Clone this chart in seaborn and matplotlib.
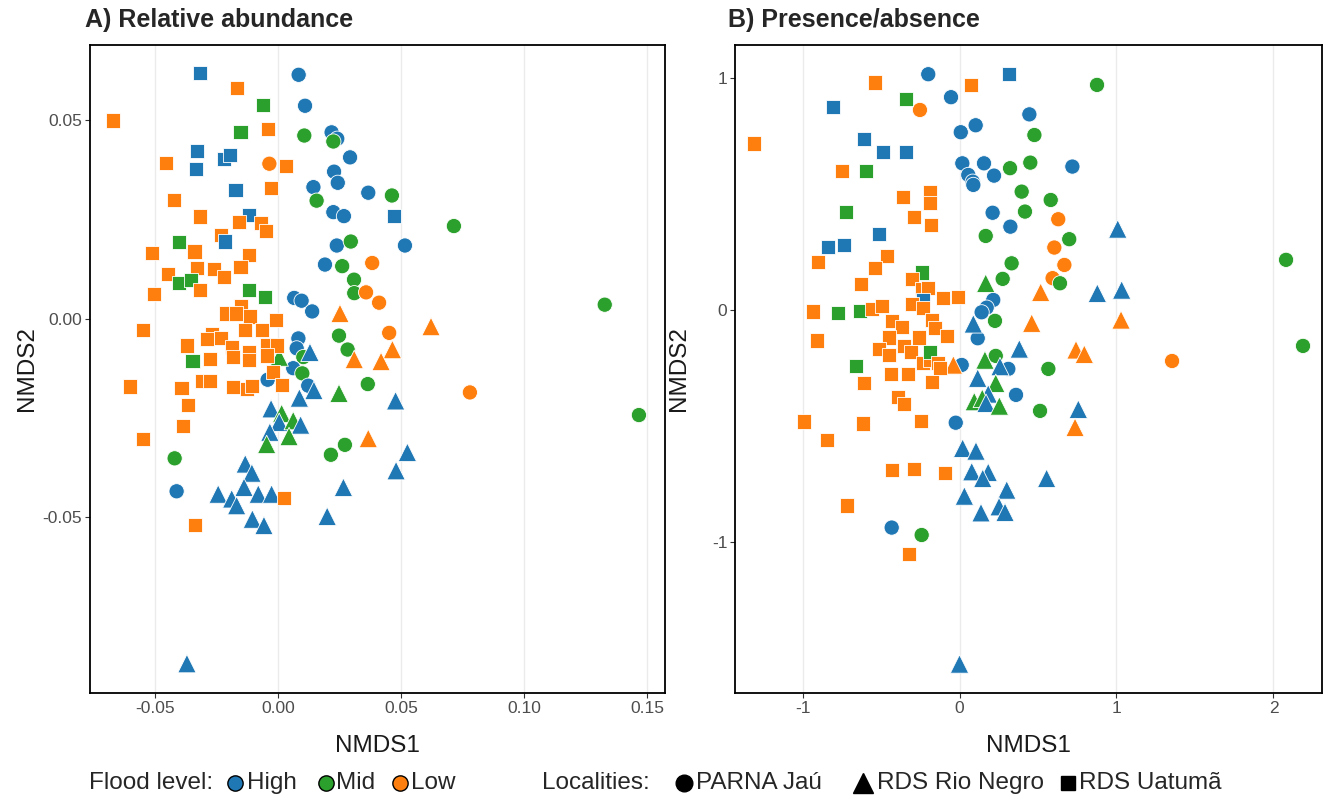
import matplotlib
matplotlib.use("Agg")
import matplotlib.pyplot as plt
from matplotlib.lines import Line2D
import seaborn as sns
import pandas as pd

# ---------------- data ----------------
# flood level codes: H=High, M=Mid, L=Low ; site codes: P=PARNA Jaú, R=RDS Rio Negro, U=RDS Uatumã
a_x = [-0.0317, -0.0165, -0.0060, -0.0670, -0.0152, -0.0042, -0.0330, -0.0218, -0.0195, -0.0454,
       -0.0035, 0.0033, -0.0333, -0.0173, -0.0028, -0.0423, -0.0117, -0.0316, -0.0157, -0.0069,
       -0.0050, -0.0233, -0.0215, -0.0401, -0.0511, -0.0339, -0.0119, -0.0330, -0.0260, -0.0152,
       -0.0447, -0.0401, -0.0355, -0.0220, -0.0318, -0.0503, -0.0119, -0.0052, -0.0150, -0.0209,
       -0.0172, -0.0114, -0.0007, -0.0550, -0.0135, -0.0066, -0.0267, -0.0287, -0.0233, -0.0370,
       -0.0188, -0.0182, -0.0119, -0.0119, -0.0046, -0.0005, -0.0046, 0.0005, -0.0347, -0.0276,
       -0.0019, -0.0042, -0.0310, -0.0276, -0.0602, -0.0392, -0.0182, -0.0127, -0.0107, 0.0015,
       -0.0366, -0.0028, 0.0015, 0.0005, -0.0385, -0.0033, -0.0046, -0.0550, -0.0420, -0.0133,
       -0.0106, -0.0138, -0.0412, -0.0243, -0.0188, -0.0168, -0.0080, -0.0026, 0.0026, -0.0337,
       -0.0104, -0.0057, -0.0370, 0.0084, 0.0110, 0.0107, 0.0218, 0.0241, 0.0225, 0.0293,
       0.0228, 0.0243, 0.0144, 0.0367, 0.0463, 0.0157, 0.0225, 0.0268, 0.0473, 0.0715,
       0.0239, 0.0296, 0.0516, 0.0191, 0.0261, 0.0383, 0.0309, 0.0310, 0.0358, 0.0411,
       0.0066, 0.0096, 0.0139, 0.0252, 0.0622, 0.0248, 0.0452, 0.0083, 0.0076, 0.0130,
       0.0103, 0.0283, 0.0465, 0.0310, 0.0419, 0.0062, 0.0099, 0.0123, 0.0146, 0.0365,
       0.0248, 0.0087, 0.0478, 0.0062, 0.0092, 0.0045, 0.0367, 0.0272, 0.0215, 0.0526,
       0.0480, 0.0266, 0.0200, 0.1328, 0.0780, 0.1467]
a_y = [0.0619, 0.0581, 0.0538, 0.0499, 0.0470, 0.0478, 0.0423, 0.0402, 0.0412, 0.0392,
       0.0390, 0.0385, 0.0377, 0.0323, 0.0328, 0.0299, 0.0261, 0.0257, 0.0243, 0.0240,
       0.0220, 0.0211, 0.0194, 0.0192, 0.0165, 0.0169, 0.0160, 0.0128, 0.0125, 0.0129,
       0.0113, 0.0089, 0.0097, 0.0104, 0.0072, 0.0062, 0.0071, 0.0055, 0.0032, 0.0013,
       0.0013, 0.0005, -0.0003, -0.0028, -0.0028, -0.0028, -0.0039, -0.0051, -0.0049, -0.0068,
       -0.0072, -0.0096, -0.0085, -0.0104, -0.0068, -0.0068, -0.0093, -0.0097, -0.0106, -0.0102,
       -0.0135, -0.0154, -0.0158, -0.0158, -0.0171, -0.0175, -0.0173, -0.0177, -0.0169, -0.0167,
       -0.0217, -0.0227, -0.0239, -0.0261, -0.0270, -0.0286, -0.0317, -0.0303, -0.0352, -0.0366,
       -0.0389, -0.0425, -0.0435, -0.0442, -0.0454, -0.0471, -0.0442, -0.0442, -0.0452, -0.0520,
       -0.0505, -0.0521, -0.0869, 0.0614, 0.0536, 0.0461, 0.0469, 0.0453, 0.0446, 0.0406,
       0.0370, 0.0342, 0.0331, 0.0317, 0.0310, 0.0297, 0.0268, 0.0258, 0.0258, 0.0233,
       0.0184, 0.0194, 0.0184, 0.0136, 0.0132, 0.0140, 0.0098, 0.0064, 0.0066, 0.0040,
       0.0052, 0.0045, 0.0018, 0.0013, -0.0020, -0.0043, -0.0036, -0.0050, -0.0075, -0.0085,
       -0.0097, -0.0078, -0.0078, -0.0103, -0.0108, -0.0125, -0.0138, -0.0169, -0.0181, -0.0165,
       -0.0188, -0.0200, -0.0207, -0.0257, -0.0268, -0.0297, -0.0302, -0.0318, -0.0343, -0.0337,
       -0.0383, -0.0425, -0.0498, 0.0035, -0.0186, -0.0243]
a_flood = list("HLMLMLHHHL" "LLHHLLHLLL" "LLHMLLLLLL" "LMMLLLMMLL" "LLLLLLLLLL"
               "LLLLLLLMML" "LHLLLLLLLL" "LHMHLHMLMH" "HHHHHHHHLL" "HHHHHMHHMH"
               "HHHHMMHHHM" "HMHHMLMMLL" "HHHLLMLHHH" "MMLLLHMHHM" "MHHMHMLMMH"
               "HHHMLM")
a_site = list("UUUUUUUUUU" "PUUUUUUUUU" "UUUUUUUUUU" "UUUUUUUUUU" "UUUUUUUUUU"
              "UUUUUUURUU" "UPUUUUUUUU" "URRRURRUPR" "RRPRRRRRUU" "RRRPPPPPPP"
              "PPPPPPPPUP" "PPPPPPPPPP" "PPPRRPPPPR" "PPRRRPPPRP" "RRRRRRRPPR"
              "RRRPPP")

b_x = [-0.199, -0.538, -0.343, -0.252, -0.808, -1.307, -0.606, -0.489, -0.341, -0.750,
       -0.596, -0.358, -0.188, -0.188, -0.725, -0.288, -0.183, -0.513, -0.839, -0.738,
       -0.462, -0.903, -0.538, -0.241, -0.627, -0.301, -0.241, -0.199, -0.231, 0.317,
       0.073, -0.054, 0.445, 0.008, 0.103, 0.477, 0.018, 0.156, 0.322, 0.451,
       0.719, 0.056, 0.084, 0.088, 0.220, 0.396, 0.581, 0.211, 0.417, 0.629,
       0.324, 1.008, 0.167, 0.699, 0.604, 0.332, 0.668, 0.167, 0.275, 0.593,
       0.640, 0.517, 0.878, 1.033, 0.215, -0.107, -0.008, -0.935, -0.776, -0.634,
       -0.559, -0.496, -0.304, -0.234, -0.177, -0.432, -0.368, -0.910, -0.449, -0.256,
       -0.511, -0.447, -0.352, -0.311, -0.231, -0.188, -0.188, -0.661, -0.438, -0.330,
       -0.608, -0.177, -0.390, -0.352, -0.990, -0.613, -0.245, -0.842, -0.432, -0.288,
       -0.715, -0.432, -0.241, -0.322, 0.173, 0.141, 1.029, 0.460, 0.226, 0.088,
       -0.156, -0.082, 0.116, 0.381, 0.742, 0.795, 0.162, 0.231, -0.135, -0.124,
       -0.039, 0.014, 0.258, 0.311, 0.566, 0.116, 0.231, 0.183, 0.360, 0.094,
       0.145, 0.169, 0.254, 0.513, 0.757, 0.736, -0.024, 0.020, 0.105, -0.092,
       0.078, 0.183, 0.148, 0.555, 0.031, 0.301, 0.137, 0.252, 0.290, 0.876,
       1.354, 2.080, 2.188, 0.000]
b_y = [1.016, 0.980, 0.908, 0.862, 0.875, 0.717, 0.737, 0.680, 0.682, 0.599,
       0.599, 0.487, 0.510, 0.460, 0.421, 0.400, 0.366, 0.326, 0.270, 0.280,
       0.233, 0.208, 0.180, 0.161, 0.111, 0.132, 0.089, 0.094, 0.043, 1.017,
       0.970, 0.917, 0.843, 0.766, 0.796, 0.754, 0.632, 0.632, 0.611, 0.635,
       0.618, 0.582, 0.553, 0.539, 0.579, 0.510, 0.474, 0.419, 0.424, 0.391,
       0.359, 0.349, 0.319, 0.305, 0.269, 0.201, 0.194, 0.115, 0.134, 0.137,
       0.115, 0.076, 0.072, 0.086, 0.043, 0.050, 0.055, -0.007, -0.014, -0.004,
       0.004, 0.017, 0.025, 0.007, -0.043, -0.047, -0.075, -0.132, -0.119, -0.119,
       -0.168, -0.194, -0.155, -0.182, -0.230, -0.216, -0.180, -0.240, -0.277, -0.276,
       -0.316, -0.312, -0.374, -0.407, -0.481, -0.489, -0.477, -0.560, -0.690, -0.685,
       -0.843, -0.938, -0.970, -1.052, 0.010, -0.010, -0.043, -0.057, -0.047, -0.060,
       -0.079, -0.111, -0.122, -0.168, -0.172, -0.191, -0.216, -0.198, -0.230, -0.251,
       -0.237, -0.237, -0.244, -0.254, -0.254, -0.294, -0.316, -0.362, -0.366, -0.395,
       -0.381, -0.402, -0.414, -0.435, -0.428, -0.506, -0.486, -0.596, -0.608, -0.704,
       -0.697, -0.700, -0.726, -0.726, -0.802, -0.776, -0.874, -0.848, -0.872, 0.970,
       -0.220, 0.216, -0.155, -1.526]
b_flood = list("HLMLHLHHHL" "MLLLMLLHHH" "LLLMLLLLHH" "LHHHHMHHMM" "HHHHHMMHML"
               "HHMMLMLMML" "MLHHHLLLMM" "LLLLLLLLLL" "LLLLLLMMLL" "LLLLLLLLLL"
               "LHMLHHLLMH" "LLHHLLMMLL" "LHHHMHMHHM" "MHMMHLHHHL" "HHHHHHHHHM"
               "LMMH")
b_site = list("PUUPUUUUUU" "UUUUUUUUUU" "UUUUUUUUUU" "UPPPPPPPPP" "PPPPPPPPPP"
              "PRPPPPPRPP" "PRRRPUUUUU" "UUUUUUUUUU" "UUUUUUUUUU" "UUUUUUUUUU"
              "UPPUPPRRPR" "UUPRRRRPUU" "RPRPPRRRPR" "RRRPRRPRRU" "RRRRRRRRRP"
              "PPPR")

a_xlim = (-0.0764, 0.1573)
a_ylim = (-0.0943, 0.0689)
b_xlim = (-1.43, 2.309)
b_ylim = (-1.651, 1.142)
a_xticks = [-0.05, 0.00, 0.05, 0.10, 0.15]
a_xticklabels = ["-0.05", "0.00", "0.05", "0.10", "0.15"]
a_yticks = [-0.05, 0.00, 0.05]
a_yticklabels = ["-0.05", "0.00", "0.05"]
b_xticks = [-1, 0, 1, 2]
b_xticklabels = ["-1", "0", "1", "2"]
b_yticks = [-1, 0, 1]
b_yticklabels = ["-1", "0", "1"]

flood_names = {"H": "High", "M": "Mid", "L": "Low"}
site_names = {"P": "PARNA Jaú", "R": "RDS Rio Negro", "U": "RDS Uatumã"}
palette = {"High": "#1f77b4", "Mid": "#2ca02c", "Low": "#ff7f0e"}
site_markers = {"PARNA Jaú": "o", "RDS Rio Negro": "^", "RDS Uatumã": "s"}
site_sizes = {"PARNA Jaú": 120, "RDS Rio Negro": 175, "RDS Uatumã": 105}

n_a = min(len(a_x), len(a_y), len(a_flood), len(a_site))
n_b = min(len(b_x), len(b_y), len(b_flood), len(b_site))

# ---------------- figure ----------------
sns.set_theme(style="white")
plt.rcParams["font.family"] = ["Liberation Sans", "DejaVu Sans"]
plt.rcParams["axes.unicode_minus"] = False

W, H = 1335, 808
fig = plt.figure(figsize=(W / 100, H / 100), dpi=100)
axA = fig.add_axes([90 / W, 1 - 693 / H, 575 / W, 648 / H])
axB = fig.add_axes([735 / W, 1 - 693 / H, 587 / W, 648 / H])


def draw(ax, xs, ys, fl, st, n, xlim, ylim, xt, xtl, yt, ytl, ylab_x):
    df = pd.DataFrame({"x": xs[:n], "y": ys[:n],
                       "flood": [flood_names[c] for c in fl[:n]],
                       "site": [site_names[c] for c in st[:n]]})
    for site, mk in site_markers.items():
        sub = df[df["site"] == site]
        sns.scatterplot(data=sub, x="x", y="y", hue="flood", palette=palette,
                        marker=mk, s=site_sizes[site], edgecolor="white",
                        linewidth=0.6, ax=ax, legend=False, zorder=3)
    ax.set_xlim(*xlim)
    ax.set_ylim(*ylim)
    ax.set_xticks(xt)
    ax.set_xticklabels(xtl)
    ax.set_yticks(yt)
    ax.set_yticklabels(ytl)
    ax.grid(False)
    for v in xt:
        ax.axvline(v, color="#ebebeb", lw=1.0, zorder=0)
    for sp in ax.spines.values():
        sp.set_color("black")
        sp.set_linewidth(1.3)
        sp.set_visible(True)
    ax.tick_params(axis="both", which="major", direction="out", length=3.5,
                   width=0.8, color="#333333", labelsize=12.5,
                   labelcolor="#4d4d4d", pad=2, bottom=True, left=True)
    ax.set_xlabel("NMDS1", fontsize=17.5, color="#1a1a1a")
    ax.set_ylabel("NMDS2", fontsize=17.5, color="#1a1a1a")
    ax.xaxis.set_label_coords(0.5, -42 / 648)
    ax.yaxis.set_label_coords(ylab_x, 0.5)
    ax.set_facecolor("white")


draw(axA, a_x, a_y, a_flood, a_site, n_a, a_xlim, a_ylim, a_xticks, a_xticklabels,
     a_yticks, a_yticklabels, (38 - 90) / 575)
draw(axB, b_x, b_y, b_flood, b_site, n_b, b_xlim, b_ylim, b_xticks, b_xticklabels,
     b_yticks, b_yticklabels, (690 - 735) / 587)

fig.text(85 / W, 1 - 20 / H, "A) Relative abundance", fontsize=18,
         fontweight="bold", ha="left", va="center")
fig.text(728 / W, 1 - 20 / H, "B) Presence/absence", fontsize=18,
         fontweight="bold", ha="left", va="center")

# ---------------- bottom legends ----------------
ly = 1 - 783 / H
fs = 17.5
fig.text(89 / W, ly, "Flood level:", fontsize=fs, ha="left", va="center")
for (name, mx, tx) in [("High", 235, 247), ("Mid", 326, 336), ("Low", 400, 411)]:
    fig.add_artist(Line2D([mx / W], [ly], transform=fig.transFigure, marker="o",
                          markersize=11, markerfacecolor=palette[name],
                          markeredgecolor="black", markeredgewidth=1.0, linestyle="none"))
    fig.text(tx / W, ly, name, fontsize=fs, ha="left", va="center")

fig.text(542 / W, ly, "Localities:", fontsize=fs, ha="left", va="center")
for (name, mk, ms, mx, tx) in [("PARNA Jaú", "o", 12, 684, 696),
                               ("RDS Rio Negro", "^", 14, 863, 877),
                               ("RDS Uatumã", "s", 9.5, 1068, 1079)]:
    fig.add_artist(Line2D([mx / W], [ly], transform=fig.transFigure, marker=mk,
                          markersize=ms, markerfacecolor="black",
                          markeredgecolor="black", linestyle="none"))
    fig.text(tx / W, ly, name, fontsize=fs, ha="left", va="center")

fig.savefig("out.png", dpi=100, facecolor="white")
